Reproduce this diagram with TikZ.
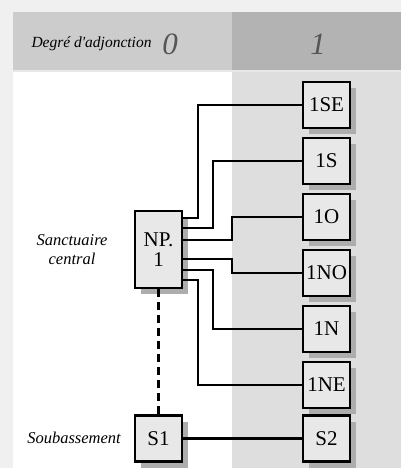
\documentclass[tikz,border=0pt]{standalone}
\usepackage{fontspec}
\setmainfont{Liberation Serif}
\usetikzlibrary{shadows}
\definecolor{pageGrey}{HTML}{F0F0F0}
\definecolor{headLeft}{HTML}{CCCCCC}
\definecolor{headRight}{HTML}{B3B3B3}
\definecolor{colRight}{HTML}{DEDEDE}
\definecolor{boxFill}{HTML}{E8E8E8}
\definecolor{numGrey}{HTML}{555555}
\begin{document}
\begin{tikzpicture}[
    x=1pt,
    y=-1pt,
    cell/.style={draw=black, fill=boxFill, line width=2.9pt,
        minimum width=47pt, minimum height=46pt, inner sep=0pt,
        font=\fontsize{21}{21}\selectfont,
        drop shadow={shadow xshift=6pt, shadow yshift=-6pt,
            fill=black!32, opacity=1}},
    wire/.style={draw=black, line width=2.4pt},
    dashWire/.style={draw=black, line width=2.8pt, dash pattern=on 8pt off 5pt},
    sideLabel/.style={font=\fontsize{16.5}{19}\selectfont\itshape, align=center},
    headNum/.style={font=\fontsize{31}{31}\selectfont\itshape, text=numGrey}
]
\path[use as bounding box] (0,0) rectangle (401,468);
\fill[pageGrey] (0,0) rectangle (401,468);

% Header band and the two columns.
\fill[headLeft] (13,12) rectangle (232,70);
\fill[headRight] (232,12) rectangle (401,70);
\fill[boxFill] (13,70) rectangle (401,72);
\fill[white] (13,72) rectangle (232,468);
\fill[colRight] (232,72) rectangle (401,468);

\node[anchor=west, font=\fontsize{15.5}{15.5}\selectfont\itshape]
    (degre) at (28,44) {Degré d\textquotesingle adjonction};
\node[headNum] (zero) at (170,44) {0};
\node[headNum] (one) at (318,44) {1};

% Column 0.
\node[cell, minimum height=77pt, align=center,
    font=\fontsize{21}{20}\selectfont] (np) at (158.5,249.5) {NP.\\1};
\node[cell] (sOne) at (158.5,438.5) {S1};
\node[sideLabel] (sanct) at (72,250) {Sanctuaire\\central};
\node[sideLabel] (soub) at (74,438) {Soubassement};

% Column 1.
\foreach \name/\txt/\y in {se/1SE/105, s/1S/161, o/1O/217,
    no/1NO/273, n/1N/329, ne/1NE/385} {
    \node[cell] (\name) at (326.5,\y) {\txt};
}
\node[cell] (sTwo) at (326.5,438.5) {S2};

% Links out of the sanctuary, nested from outside to inside.
\draw[wire] (np.east |- 0,218) -| (198,0 |- se.west) -- (se.west);
\draw[wire] (np.east |- 0,228) -| (213,0 |- s.west) -- (s.west);
\draw[wire] (np.east |- 0,240) -| (232,0 |- o.west) -- (o.west);
\draw[wire] (np.east |- 0,259) -| (232,0 |- no.west) -- (no.west);
\draw[wire] (np.east |- 0,270) -| (213,0 |- n.west) -- (n.west);
\draw[wire] (np.east |- 0,280) -| (198,0 |- ne.west) -- (ne.west);

\draw[dashWire] (np.south) -- (sOne.north);
\draw[wire] (sOne.east) -- (sTwo.west);
\end{tikzpicture}
\end{document}
